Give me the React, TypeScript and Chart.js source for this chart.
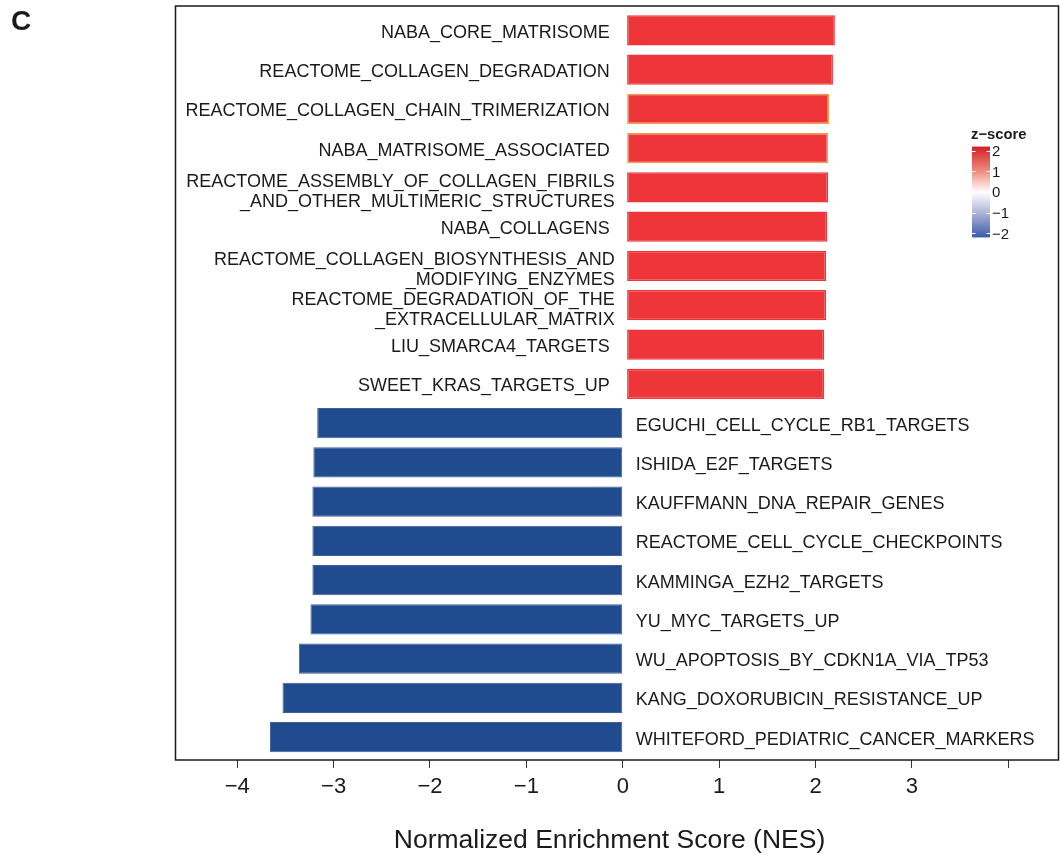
import React, { useEffect, useRef } from "react";
import { Chart, registerables } from "chart.js";

Chart.register(...registerables);

// Gene sets enriched in the up-regulated direction (top block, red bars)
const UP_TERMS = [
  "NABA_CORE_MATRISOME ",
  "REACTOME_COLLAGEN_DEGRADATION ",
  "REACTOME_COLLAGEN_CHAIN_TRIMERIZATION ",
  "NABA_MATRISOME_ASSOCIATED ",
  "REACTOME_ASSEMBLY_OF_COLLAGEN_FIBRILS\n_AND_OTHER_MULTIMERIC_STRUCTURES",
  "NABA_COLLAGENS ",
  "REACTOME_COLLAGEN_BIOSYNTHESIS_AND\n_MODIFYING_ENZYMES",
  "REACTOME_DEGRADATION_OF_THE\n_EXTRACELLULAR_MATRIX",
  "LIU_SMARCA4_TARGETS ",
  "SWEET_KRAS_TARGETS_UP ",
];
const UP_NES = [2.2, 2.18, 2.14, 2.13, 2.13, 2.12, 2.11, 2.11, 2.09, 2.09];

// Gene sets enriched in the down-regulated direction (bottom block, blue bars)
const DOWN_TERMS = [
  "EGUCHI_CELL_CYCLE_RB1_TARGETS",
  "ISHIDA_E2F_TARGETS",
  "KAUFFMANN_DNA_REPAIR_GENES",
  "REACTOME_CELL_CYCLE_CHECKPOINTS",
  "KAMMINGA_EZH2_TARGETS",
  "YU_MYC_TARGETS_UP",
  "WU_APOPTOSIS_BY_CDKN1A_VIA_TP53",
  "KANG_DOXORUBICIN_RESISTANCE_UP",
  "WHITEFORD_PEDIATRIC_CANCER_MARKERS",
];
const DOWN_NES = [-3.17, -3.21, -3.22, -3.22, -3.22, -3.24, -3.36, -3.53, -3.66];

// x axis
const X_MIN = -4.64;
const X_MAX = 4.52;
const X_TICKS = [-4, -3, -2, -1, 0, 1, 2, 3, 4];
const X_TICK_LABELS = ["\u22124", "\u22123", "\u22122", "\u22121", "0", "1", "2", "3", ""];
const X_TITLE = "Normalized Enrichment Score (NES)";

// colour-bar legend
const Z_TICKS = [2, 1, 0, -1, -2];
const Z_TICK_LABELS = ["2", "1", "0", "\u22121", "\u22122"];

// styling
const FONT = '"Liberation Sans", Arial, Helvetica, sans-serif';
const RED = "#EE363A";
const ORANGE = "#F59A4A";
const BLUE = "#204B8F";
const BLUE_EDGE = "#3F6199";
const INK = "#1a1a1a";
const OUTLINED = new Set(["REACTOME_COLLAGEN_CHAIN_TRIMERIZATION", "NABA_MATRISOME_ASSOCIATED"]);
const LABEL_SIZE = 18;
const LABEL_LINE = 20;

const termLabels = {
  id: "termLabels",
  afterDatasetsDraw(chart: any) {
    const { ctx } = chart;
    const xs = chart.scales.x;
    const ys = chart.scales.y;
    const zero = xs.getPixelForValue(0);
    ctx.save();
    ctx.font = `${LABEL_SIZE}px ${FONT}`;
    ctx.fillStyle = INK;
    ctx.textBaseline = "alphabetic";
    const capHalf = LABEL_SIZE * 0.358;
    const draw = (terms: string[], values: number[], start: number) => {
      terms.forEach((term, i) => {
        const cy = ys.getPixelForValue(start + i) + 1;
        const up = values[i] > 0;
        ctx.textAlign = up ? "right" : "left";
        const ax = up ? zero - 8 : zero + 13;
        const lines = term.split("\n");
        const shift = lines.length > 1 ? 2 : 0;
        lines.forEach((line, k) => {
          const ly = cy + shift + (k - (lines.length - 1) / 2) * LABEL_LINE + capHalf;
          ctx.fillText(line, ax, ly);
        });
      });
    };
    draw(UP_TERMS, UP_NES, 0);
    draw(DOWN_TERMS, DOWN_NES, UP_TERMS.length);
    ctx.restore();
  },
};

const frameAndLegend = {
  id: "frameAndLegend",
  afterDraw(chart: any) {
    const { ctx, chartArea } = chart;
    ctx.save();
    // panel border
    ctx.strokeStyle = INK;
    ctx.lineWidth = 1.5;
    ctx.strokeRect(chartArea.left, chartArea.top, chartArea.right - chartArea.left, chartArea.bottom - chartArea.top);

    // axis title
    ctx.fillStyle = INK;
    ctx.font = `26.5px ${FONT}`;
    ctx.textAlign = "center";
    ctx.textBaseline = "alphabetic";
    ctx.fillText(X_TITLE, 609.5, 847.5);

    // panel tag
    ctx.font = `bold 28px ${FONT}`;
    ctx.textAlign = "left";
    ctx.fillText("C", 11, 29.5);

    // z-score colour bar
    const bx = 972;
    const bw = 18;
    const zMid = 192;
    const zStep = 20.65;
    const zy = (z: number) => zMid - z * zStep;
    const top = zy(2.2);
    const bottom = zy(-2.2);
    const grad = ctx.createLinearGradient(0, top, 0, bottom);
    grad.addColorStop(0, "#D31F26");
    grad.addColorStop(0.27, "#EF8C7E");
    grad.addColorStop(0.5, "#FFFFFF");
    grad.addColorStop(0.73, "#AEB4D7");
    grad.addColorStop(1, "#3A5BA9");
    ctx.fillStyle = grad;
    ctx.fillRect(bx, top, bw, bottom - top);

    ctx.strokeStyle = "#FFFFFF";
    ctx.lineWidth = 1;
    Z_TICKS.forEach((z) => {
      const y = Math.round(zy(z)) + 0.5;
      ctx.beginPath();
      ctx.moveTo(bx, y);
      ctx.lineTo(bx + 3.5, y);
      ctx.moveTo(bx + bw - 3.5, y);
      ctx.lineTo(bx + bw, y);
      ctx.stroke();
    });

    ctx.fillStyle = INK;
    ctx.font = `15px ${FONT}`;
    Z_TICKS.forEach((z, i) => {
      ctx.fillText(Z_TICK_LABELS[i], bx + bw + 2, zy(z) + 5.4);
    });
    ctx.font = `bold 14.8px ${FONT}`;
    ctx.fillText("z\u2212score", 971, 139);
    ctx.restore();
  },
};

export default function App() {
  const ref = useRef<HTMLCanvasElement | null>(null);

  useEffect(() => {
    document.body.style.margin = "0";
    const canvas = ref.current;
    if (!canvas) return;

    const indices = Array.from({ length: UP_TERMS.length + DOWN_TERMS.length }, (_, i) => i);

    const chart = new Chart(canvas, {
      type: "bar",
      data: {
        datasets: [
          {
            data: UP_NES.map((v, i) => ({ x: v, y: i })),
            backgroundColor: RED,
            borderColor: UP_TERMS.map((t) => (OUTLINED.has(t.trim()) ? ORANGE : RED)),
            borderWidth: 1.5,
            borderSkipped: false,
            base: 0.045,
            grouped: false,
            barPercentage: 0.77,
            categoryPercentage: 1,
          } as any,
          {
            data: DOWN_NES.map((v, i) => ({ x: v, y: UP_TERMS.length + i })),
            backgroundColor: BLUE,
            borderColor: BLUE_EDGE,
            borderWidth: 1,
            borderSkipped: false,
            grouped: false,
            barPercentage: 0.77,
            categoryPercentage: 1,
          } as any,
        ],
      },
      options: {
        indexAxis: "y",
        responsive: false,
        animation: false,
        devicePixelRatio: 1,
        layout: { padding: { left: 175.5, right: 1.5, top: 6, bottom: 0 } },
        plugins: {
          legend: { display: false },
          tooltip: { enabled: false },
        },
        scales: {
          x: {
            type: "linear",
            min: X_MIN,
            max: X_MAX,
            afterBuildTicks: (s: any) => {
              s.ticks = X_TICKS.map((v) => ({ value: v }));
            },
            afterFit: (s: any) => {
              s.height = 95;
            },
            ticks: {
              callback: (v: any) => X_TICK_LABELS[X_TICKS.indexOf(Number(v))],
              font: { size: 22, family: FONT },
              color: INK,
              padding: 6,
              maxRotation: 0,
              autoSkip: false,
            },
            grid: {
              drawOnChartArea: false,
              drawTicks: true,
              tickLength: 8,
              tickColor: "#333333",
              lineWidth: 1,
            },
            border: { display: false },
            title: { display: false },
          },
          y: {
            type: "linear",
            offset: false,
            min: -0.62,
            max: indices.length - 1 + 0.58,
            reverse: true,
            display: false,
            grid: { offset: false },
            afterBuildTicks: (s: any) => {
              s.ticks = indices.map((v) => ({ value: v }));
            },
          },
        },
      } as any,
      plugins: [termLabels, frameAndLegend],
    });

    return () => chart.destroy();
  }, []);

  return (
    <div style={{ width: 1060, height: 855, background: "#ffffff" }}>
      <canvas ref={ref} width={1060} height={855} style={{ display: "block" }} />
    </div>
  );
}
